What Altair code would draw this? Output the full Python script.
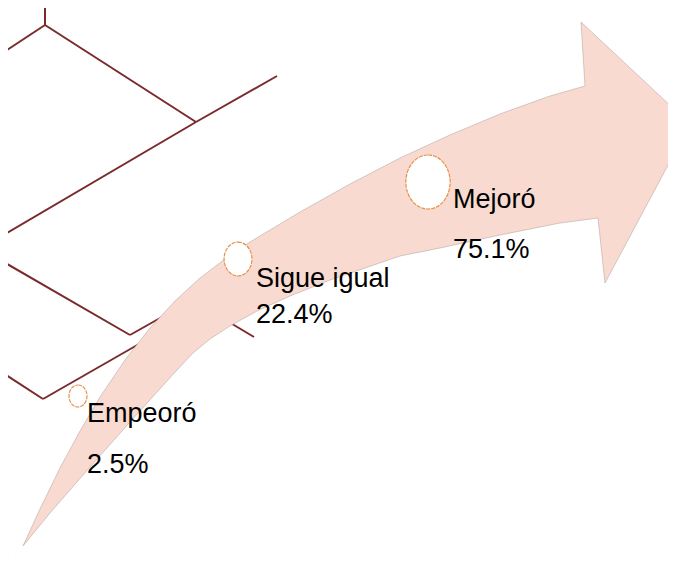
import altair as alt
import pandas as pd

# ---- data ----
categories = ["Empeoró", "Sigue igual", "Mejoró"]
values = [2.5, 22.4, 75.1]
pct_labels = ["2.5%", "22.4%", "75.1%"]

# ---- layout (reference pixel space) ----
marker_x = [78, 238, 428]
marker_y = [396, 259, 182]
label_x = [87, 256, 453]
label_y = [422, 287, 208]
pct_y = [473, 323, 258]

# arrow outline: upper edge from the tail, head, lower edge back to the tail
arrow_x = [23, 40, 60, 80, 100, 125, 150, 175, 200, 225, 238, 250, 275, 300, 350, 400, 450, 500, 550, 585,
           581, 690, 605, 598,
           560, 500, 440, 400, 330, 290, 257, 230, 210, 193, 178, 167, 130, 90, 50, 23]
arrow_y = [546, 509, 468, 431, 397, 360, 328, 301, 278, 259, 250, 242, 227, 212, 184, 158, 135, 114, 96, 86,
           22, 124, 283, 218,
           223, 235, 248, 256, 280, 296, 311, 326, 339, 353, 369, 381, 422, 467, 513, 546]

seg_x1 = [45, 45, 45, 196, 196, -5, 130, 192, 0, 43, 0]
seg_y1 = [-5, 25, 25, 122, 122, 257, 335, 300, 371, 399, 553]
seg_x2 = [45, -5, 196, 277, -5, 130, 192, 254, 43, 160, 30]
seg_y2 = [25, 58, 122, 76, 240, 335, 300, 337, 399, 332, 575]

W, H = 660, 550
xs = alt.Scale(domain=[8, 8 + W], nice=False, zero=False)
ys = alt.Scale(domain=[8, 8 + H], nice=False, zero=False, reverse=True)

df_pts = pd.DataFrame({
    "cat": categories, "val": values, "pct": pct_labels,
    "mx": marker_x, "my": marker_y, "lx": label_x, "ly": label_y, "py": pct_y,
})
df_arrow = pd.DataFrame({"x": arrow_x, "y": arrow_y, "o": list(range(len(arrow_x)))})
df_seg = pd.DataFrame({"x": seg_x1, "y": seg_y1, "x2": seg_x2, "y2": seg_y2})

segs = alt.Chart(df_seg).mark_rule(color="#7b2a2c", strokeWidth=2, clip=True).encode(
    x=alt.X("x:Q", scale=xs, axis=None),
    y=alt.Y("y:Q", scale=ys, axis=None),
    x2="x2:Q", y2="y2:Q",
)

arrow = alt.Chart(df_arrow).mark_line(
    fill="#f8dad0", stroke="#b9aaa6", strokeWidth=0.6, clip=True, interpolate="linear"
).encode(
    x=alt.X("x:Q", scale=xs, axis=None),
    y=alt.Y("y:Q", scale=ys, axis=None),
    order="o:Q",
)

k = 0.82
c = 0.5523
ell = (f"M0,-1 C{c*k:.3f},-1 {k},{-c} {k},0 C{k},{c} {c*k:.3f},1 0,1 "
       f"C{-c*k:.3f},1 {-k},{c} {-k},0 C{-k},{-c} {-c*k:.3f},-1 0,-1 Z")

markers = alt.Chart(df_pts).mark_point(
    shape=ell, filled=True, fill="white", stroke="#e8914c", strokeWidth=1.2,
    strokeDash=[4, 1], opacity=1, fillOpacity=1, clip=True,
).encode(
    x=alt.X("mx:Q", scale=xs, axis=None),
    y=alt.Y("my:Q", scale=ys, axis=None),
    size=alt.Size("val:Q", scale=alt.Scale(domain=[2.5, 75.1], range=[484, 2916]), legend=None),
)

names = alt.Chart(df_pts).mark_text(
    align="left", baseline="alphabetic", font="Liberation Sans", fontSize=27, color="#000000"
).encode(
    x=alt.X("lx:Q", scale=xs, axis=None),
    y=alt.Y("ly:Q", scale=ys, axis=None),
    text="cat:N",
)

pcts = alt.Chart(df_pts).mark_text(
    align="left", baseline="alphabetic", font="Liberation Sans", fontSize=27, color="#000000"
).encode(
    x=alt.X("lx:Q", scale=xs, axis=None),
    y=alt.Y("py:Q", scale=ys, axis=None),
    text="pct:N",
)

chart = alt.layer(segs, arrow, markers, names, pcts).properties(
    width=W, height=H, padding=0, background="white",
    autosize=alt.AutoSizeParams(type="none"),
).configure_view(stroke=None, strokeWidth=0)

chart.save("out.html", embed_options={"renderer": "svg", "actions": False})
